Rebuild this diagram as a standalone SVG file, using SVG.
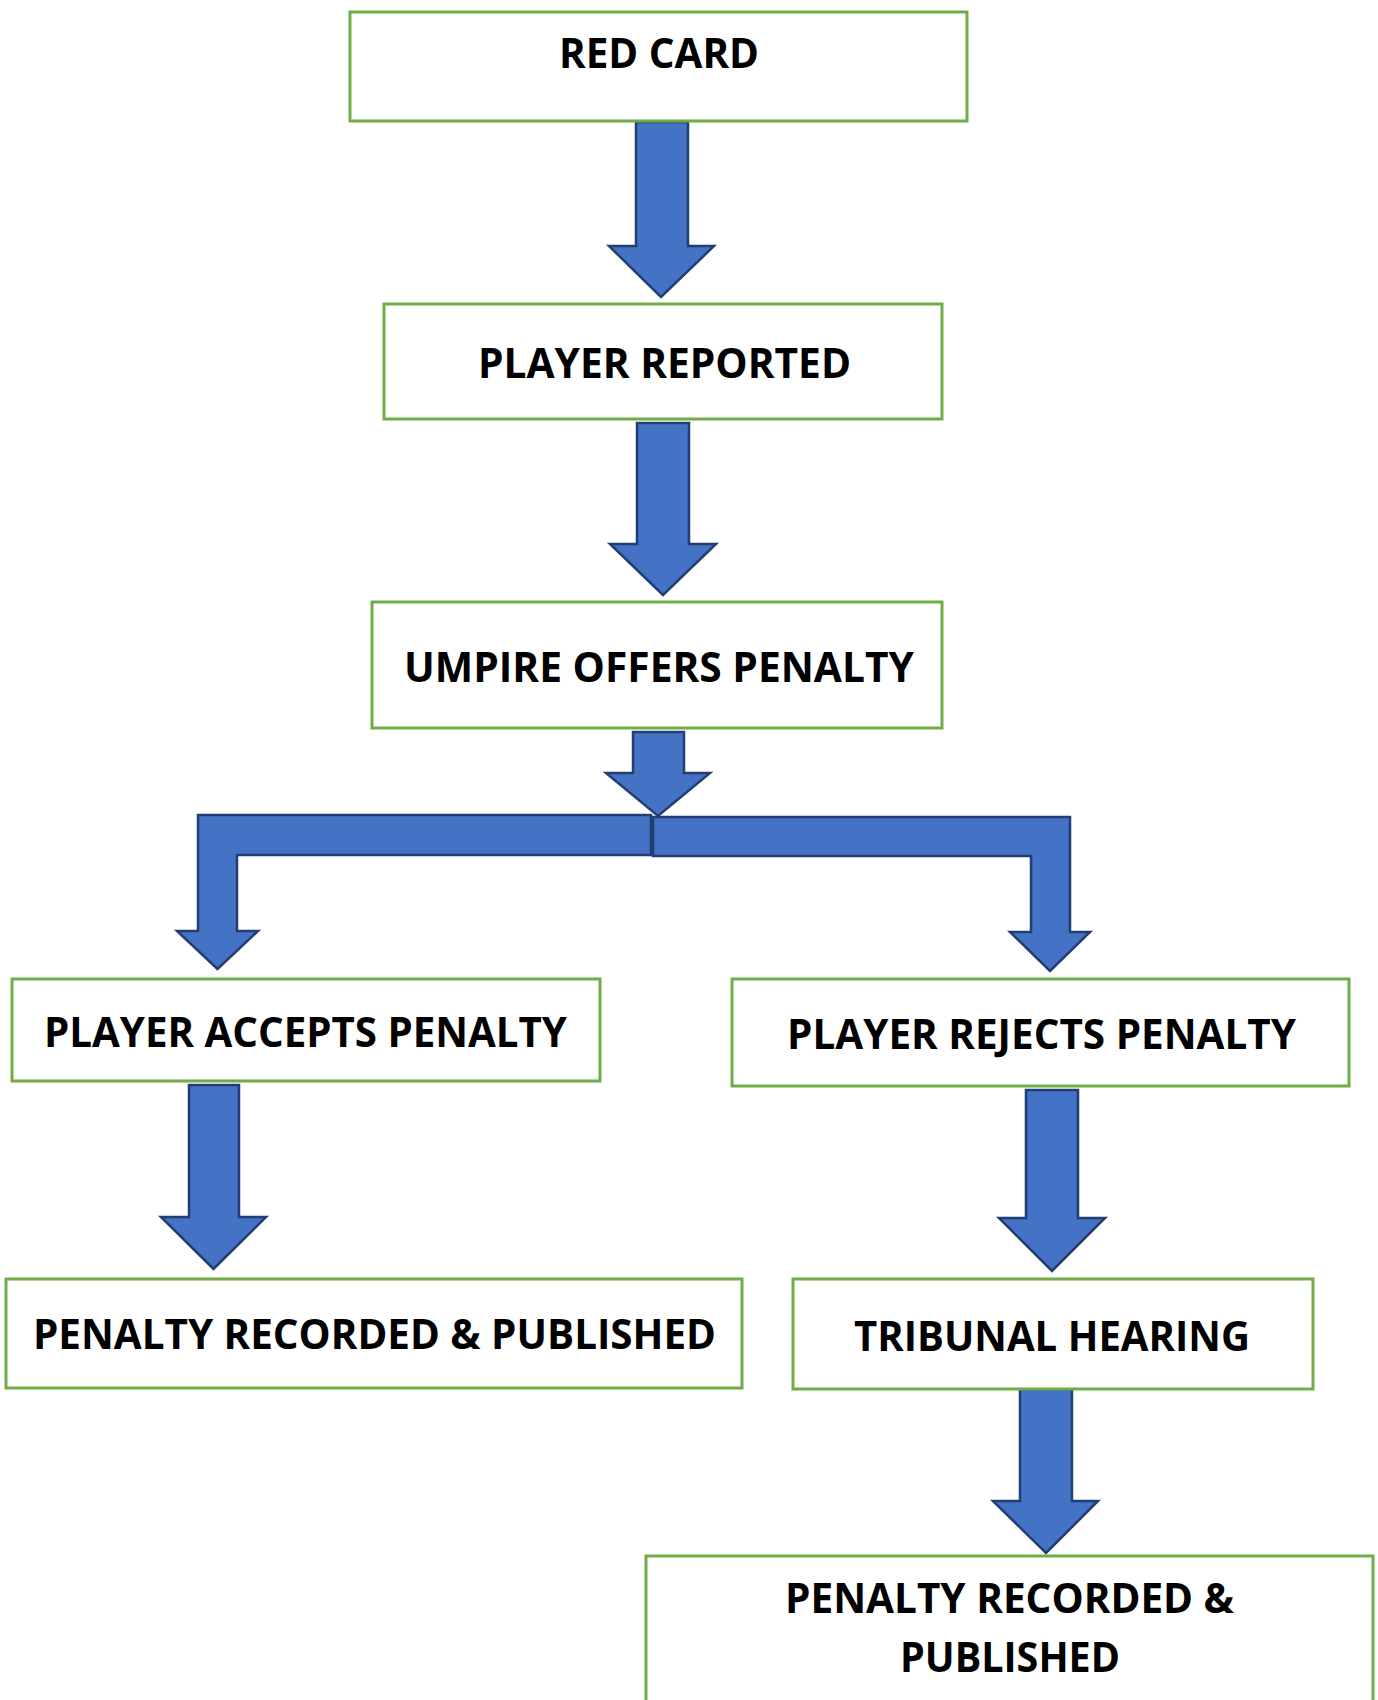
<svg xmlns="http://www.w3.org/2000/svg" width="1378" height="1700" viewBox="0 0 1378 1700">
<style>
.box{fill:#ffffff;stroke:#70AD47;stroke-width:3}
.arr{fill:#4472C4;stroke:#223E72;stroke-width:2.5;stroke-linejoin:miter}
.t{font-family:"Open Sans","Liberation Sans",sans-serif;font-weight:700;font-size:41px;fill:#000000}
</style>
<rect width="1378" height="1700" fill="#ffffff"/>
<g id="connectors">
<polygon class="arr" points="636,122 688,122 688,246 714,246 661,297 609,246 636,246"/>
<polygon class="arr" points="637,423 689,423 689,544 716,544 663,595 610,544 637,544"/>
<polygon class="arr" points="633,732 684,732 684,773 710,773 658,816 606,773 633,773"/>
<polygon class="arr" points="651,815 198,815 198,931 177,931 217.5,969 258,931 237,931 237,855 651,855"/>
<polygon class="arr" points="653,817 1070,817 1070,932 1090,932 1050,971 1010,932 1031,932 1031,856 653,856"/>
<polygon class="arr" points="189,1085 239,1085 239,1217 266,1217 213.5,1269 161,1217 189,1217"/>
<polygon class="arr" points="1026,1090 1078,1090 1078,1218 1105,1218 1052,1271 999,1218 1026,1218"/>
<polygon class="arr" points="1020,1389 1072,1389 1072,1501 1098,1501 1046,1553 993,1501 1020,1501"/>
</g>
<g id="n1"><rect class="box" x="350" y="12" width="617" height="109"/><text class="t" x="559" y="68" textLength="200" lengthAdjust="spacingAndGlyphs">RED CARD</text></g>
<g id="n2"><rect class="box" x="384" y="304" width="558" height="115"/><text class="t" x="478" y="378" textLength="373" lengthAdjust="spacingAndGlyphs">PLAYER REPORTED</text></g>
<g id="n3"><rect class="box" x="372" y="602" width="570" height="126"/><text class="t" x="404" y="682" textLength="510" lengthAdjust="spacingAndGlyphs">UMPIRE OFFERS PENALTY</text></g>
<g id="n4"><rect class="box" x="12" y="979" width="588" height="102"/><text class="t" x="44" y="1047" textLength="523" lengthAdjust="spacingAndGlyphs">PLAYER ACCEPTS PENALTY</text></g>
<g id="n5"><rect class="box" x="732" y="979" width="617" height="107"/><text class="t" x="787" y="1049" textLength="509" lengthAdjust="spacingAndGlyphs">PLAYER REJECTS PENALTY</text></g>
<g id="n6"><rect class="box" x="6" y="1279" width="736" height="109"/><text class="t" x="33" y="1349" textLength="683" lengthAdjust="spacingAndGlyphs">PENALTY RECORDED &amp; PUBLISHED</text></g>
<g id="n7"><rect class="box" x="793" y="1279" width="520" height="110"/><text class="t" x="854" y="1351" textLength="396" lengthAdjust="spacingAndGlyphs">TRIBUNAL HEARING</text></g>
<g id="n8"><rect class="box" x="646" y="1556" width="727" height="160"/><text class="t" x="785" y="1613" textLength="449" lengthAdjust="spacingAndGlyphs">PENALTY RECORDED &amp;</text><text class="t" x="900" y="1672" textLength="220" lengthAdjust="spacingAndGlyphs">PUBLISHED</text></g>
</svg>
